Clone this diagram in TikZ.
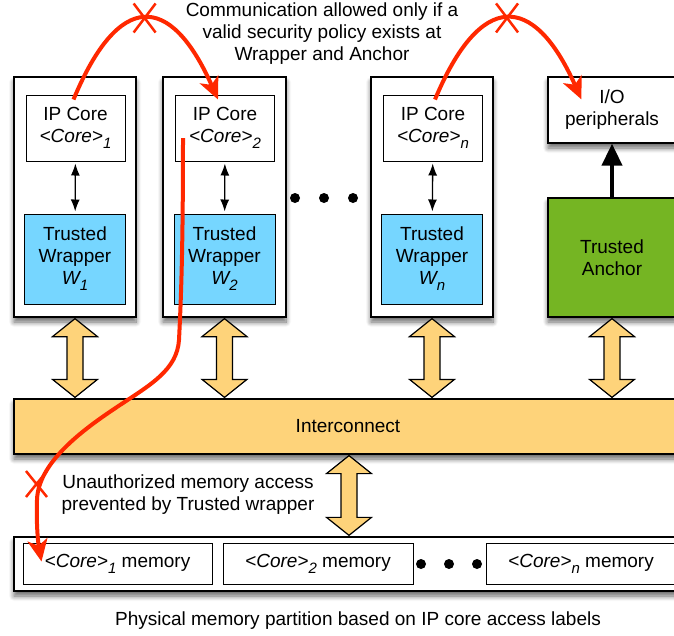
\documentclass[tikz,border=0pt]{standalone}
\usepackage{fontspec}
\setmainfont{Liberation Sans}
\usetikzlibrary{arrows.meta,shadows.blur,calc}

\definecolor{wrapblue}{RGB}{118,214,255}
\definecolor{anchorgreen}{RGB}{117,181,35}
\definecolor{busyellow}{RGB}{254,211,122}
\definecolor{alertred}{RGB}{255,40,0}

% lowered, smaller italic index
\newcommand{\lowsub}[1]{\raisebox{-6pt}{\fontsize{15}{15}\selectfont\itshape #1}}
\newcommand{\corelbl}[1]{{\itshape <Core>}\lowsub{#1}}
\newcommand{\wlbl}[1]{{\itshape W}\lowsub{#1}}

% yellow two-headed block arrow between two anchors (x taken from the first)
\newcommand{\busarrow}[2]{%
  \path[busarrowstyle] let \p1=(#1), \p2=(#2) in
    (\x1,\y1) -- (\x1+22.5pt,\y1-18pt) -- (\x1+8pt,\y1-18pt) --
    (\x1+8pt,\y2+18pt) -- (\x1+22.5pt,\y2+18pt) -- (\x1,\y2) --
    (\x1-22.5pt,\y2+18pt) -- (\x1-8pt,\y2+18pt) -- (\x1-8pt,\y1-18pt) --
    (\x1-22.5pt,\y1-18pt) -- cycle;}

\tikzset{
  softshadow/.style={blur shadow={shadow xshift=0pt, shadow yshift=-5pt,
      shadow blur radius=5pt, shadow blur steps=8, shadow opacity=60}},
  shellbox/.style={draw, line width=1.3pt, fill=white, inner sep=0pt,
      softshadow},
  corebox/.style={draw, line width=1pt, fill=white, inner sep=0pt,
      minimum width=99pt, minimum height=66pt, align=center},
  wrapbox/.style={draw, line width=1pt, fill=wrapblue, inner sep=0pt,
      minimum width=101pt, minimum height=90pt, align=center},
  membox/.style={draw, line width=1pt, fill=white, inner sep=0pt,
      minimum width=190pt, minimum height=41pt, align=center},
  busarrowstyle/.style={draw, line width=1.2pt, fill=busyellow,
      line join=miter},
  linkarrow/.style={line width=1.3pt,
      {Latex[length=12pt,width=9pt]}-{Latex[length=12pt,width=9pt]},
      shorten <=2pt, shorten >=2pt},
  redpath/.style={draw=alertred, line width=4pt,
      -{Stealth[length=22pt,width=20pt,inset=6pt]}},
  xmark/.style={draw=alertred, line width=2.5pt},
  plaintext/.style={align=center, inner sep=0pt}
}

\begin{document}
\begin{tikzpicture}[x=1pt, y=-1pt, font=\fontsize{19}{22}\selectfont]
\useasboundingbox (0,0) rectangle (674,635);

% core shells
\node[shellbox, minimum width=122pt, minimum height=240pt] (s1) at (75,197) {};
\node[shellbox, minimum width=123pt, minimum height=240pt] (s2) at (224.5,197) {};
\node[shellbox, minimum width=122pt, minimum height=240pt] (sn) at (432,197) {};

% I/O side
\node[shellbox, minimum width=128pt, minimum height=66pt, align=center] (io) at (612,110) {I/O\\peripherals};
\node[shellbox, fill=anchorgreen, minimum width=128pt, minimum height=119pt, align=center] (anc) at (612,257.5) {Trusted\\Anchor};

% IP cores and wrappers
\node[corebox] (ip1) at (75.5,128) {IP Core\\\corelbl{1}};
\node[corebox] (ip2) at (225,128) {IP Core\\\corelbl{2}};
\node[corebox] (ipn) at (433,128) {IP Core\\\corelbl{n}};
\node[wrapbox] (w1) at (75,259) {Trusted\\Wrapper\\\wlbl{1}};
\node[wrapbox] (w2) at (224.5,259) {Trusted\\Wrapper\\\wlbl{2}};
\node[wrapbox] (wn) at (432,259) {Trusted\\Wrapper\\\wlbl{n}};

\draw[linkarrow] (ip1) -- (w1);
\draw[linkarrow] (ip2) -- (w2);
\draw[linkarrow] (ipn) -- (wn);

\draw[line width=4pt, -{Triangle[length=22pt,width=20pt]}] (anc.north) -- (io.south);

% ellipsis between shells
\fill (295,198) circle (5pt) (324,198) circle (5pt) (353,198) circle (5pt);

% interconnect
\node[shellbox, fill=busyellow, line width=1.2pt, minimum width=668pt, minimum height=55pt] (ic) at (348,426.5) {Interconnect};

% memory partition
\node[shellbox, minimum width=676pt, minimum height=54pt] (mem) at (352,564) {};
\node[membox, minimum width=189pt] (m1) at (117.5,563.5) {\corelbl{1} memory};
\node[membox] (m2) at (318,563.5) {\corelbl{2} memory};
\node[membox] (mn) at (581,563.5) {\corelbl{n} memory};
\fill (421,564) circle (5pt) (449,564) circle (5pt) (477,564) circle (5pt);

% block arrows to the interconnect
\busarrow{$(s1.south)+(0,1)$}{$(ic.north)+(0,-1)$}
\busarrow{$(s2.south)+(0,1)$}{$(ic.north)+(0,-1)$}
\busarrow{$(sn.south)+(0,1)$}{$(ic.north)+(0,-1)$}
\busarrow{$(anc.south)+(0,1)$}{$(ic.north)+(0,-1)$}
\busarrow{$(ic.south)+(1,1)$}{$(mem.north)+(0,-1)$}

% labels
\node[plaintext] (pol) at (322,34) {Communication allowed only if a\\valid security policy exists at\\Wrapper and Anchor};
\node[plaintext] (unauth) at (188,495) {Unauthorized memory access\\prevented by Trusted wrapper};
\node[plaintext] (cap) at (358,621) {Physical memory partition based on IP core access labels};

% blocked and allowed flows
\draw[redpath] ($(ip1.north)+(-2,5)$) .. controls +(45,-108) and +(-48,-108) ..
  coordinate[pos=0.5] (peak1) ($(ip2.north)+(-7,5)$);
\draw[redpath] ($(ipn.north)+(2,5)$) .. controls +(45,-108) and +(-48,-108) ..
  coordinate[pos=0.5] (peak2) ($(io.north west)+(34,23)$);
\draw[redpath] ($(ip2.center)+(-42,10)$)
  .. controls +(0,112) and +(2,-40) .. (179,340)
  .. controls (177,370) and (150,385) .. (120,405)
  .. controls (90,425) and (38,460) .. (37,500)
  .. controls (36,530) and (39,548) .. ($(m1.north west)+(19,19)$);

\draw[xmark] ($(peak1)+(-11,-15)$) -- ($(peak1)+(11,14)$)
             ($(peak1)+(11,-15)$) -- ($(peak1)+(-11,14)$);
\draw[xmark] ($(peak2)+(-11,-15)$) -- ($(peak2)+(11,14)$)
             ($(peak2)+(11,-15)$) -- ($(peak2)+(-11,14)$);
\draw[xmark] (26,471) -- (47,497) (47,471) -- (26,497);
\end{tikzpicture}
\end{document}
